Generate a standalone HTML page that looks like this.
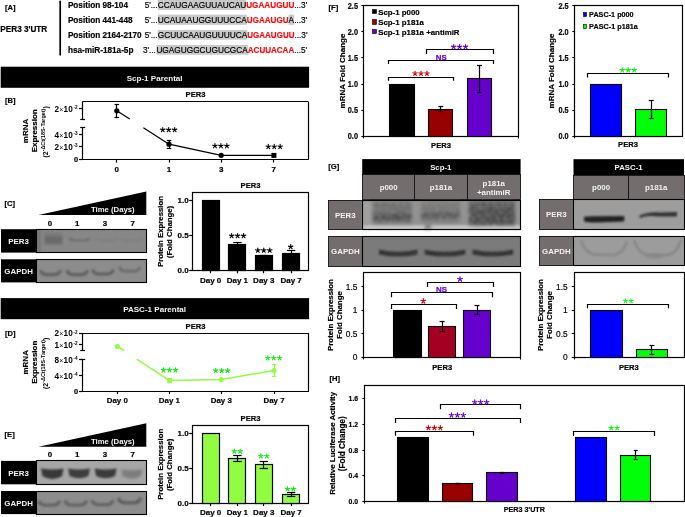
<!DOCTYPE html>
<html><head><meta charset="utf-8"><style>
html,body{margin:0;padding:0;background:#fff;}
svg{display:block;font-family:"Liberation Sans", sans-serif;will-change:transform;}
</style></head><body>
<svg width="685" height="517" viewBox="0 0 685 517">
<defs><filter id="b0_5" filterUnits="userSpaceOnUse" x="0" y="0" width="685" height="517"><feGaussianBlur stdDeviation="0.5"/></filter><filter id="b0_8" filterUnits="userSpaceOnUse" x="0" y="0" width="685" height="517"><feGaussianBlur stdDeviation="0.8"/></filter><filter id="b1_0" filterUnits="userSpaceOnUse" x="0" y="0" width="685" height="517"><feGaussianBlur stdDeviation="1.0"/></filter><filter id="b1_2" filterUnits="userSpaceOnUse" x="0" y="0" width="685" height="517"><feGaussianBlur stdDeviation="1.2"/></filter><filter id="b1_3" filterUnits="userSpaceOnUse" x="0" y="0" width="685" height="517"><feGaussianBlur stdDeviation="1.3"/></filter><filter id="b1_4" filterUnits="userSpaceOnUse" x="0" y="0" width="685" height="517"><feGaussianBlur stdDeviation="1.4"/></filter><filter id="b1_5" filterUnits="userSpaceOnUse" x="0" y="0" width="685" height="517"><feGaussianBlur stdDeviation="1.5"/></filter><filter id="b2_0" filterUnits="userSpaceOnUse" x="0" y="0" width="685" height="517"><feGaussianBlur stdDeviation="2.0"/></filter><filter id="b2_5" filterUnits="userSpaceOnUse" x="0" y="0" width="685" height="517"><feGaussianBlur stdDeviation="2.5"/></filter><filter id="b3_0" filterUnits="userSpaceOnUse" x="0" y="0" width="685" height="517"><feGaussianBlur stdDeviation="3.0"/></filter><filter id="mottle" x="-10%" y="-30%" width="120%" height="160%"><feTurbulence type="fractalNoise" baseFrequency="0.28" numOctaves="2" seed="11" result="n"/><feColorMatrix in="n" type="matrix" values="0 0 0 0 0  0 0 0 0 0  0 0 0 0 0  0 0 0 -1.1 1.35" result="a"/><feComposite in="SourceGraphic" in2="a" operator="in" result="c"/><feGaussianBlur in="c" stdDeviation="0.9"/></filter></defs>
<rect width="685" height="517" fill="#fff"/>
<text x="5" y="10.2" font-size="7.6" font-weight="bold" text-anchor="start" fill="#000" stroke="#000" stroke-width="0.18">[A]</text>
<text x="0.3" y="31.8" font-size="8.2" font-weight="bold" text-anchor="start" fill="#000" stroke="#000" stroke-width="0.18">PER3 3'UTR</text>
<line x1="60.2" y1="0.7" x2="60.2" y2="55.5" stroke="#000" stroke-width="1.7"/>
<text x="67.9" y="7.9" font-size="8.2" font-weight="bold" text-anchor="start" fill="#000" stroke="#000" stroke-width="0.18">Position 98-104</text>
<text x="67.9" y="22.8" font-size="8.2" font-weight="bold" text-anchor="start" fill="#000" stroke="#000" stroke-width="0.18">Position 441-448</text>
<text x="67.9" y="37.7" font-size="8.2" font-weight="bold" text-anchor="start" fill="#000" stroke="#000" stroke-width="0.18">Position 2164-2170</text>
<text x="67.9" y="52.6" font-size="8.2" font-weight="bold" text-anchor="start" fill="#000" stroke="#000" stroke-width="0.18">hsa-miR-181a-5p</text>
<rect x="157.8" y="0.0" width="88.39999999999998" height="9.9" fill="#c9c9c9"/>
<text x="144.7" y="7.9" font-size="8.2" font-weight="normal" text-anchor="start" fill="#000" stroke="#000" stroke-width="0.18">5'...</text>
<text x="157.8" y="7.9" font-size="8.2" font-weight="normal" text-anchor="start" fill="#000" stroke="#000" stroke-width="0.18" textLength="88.39999999999998" lengthAdjust="spacingAndGlyphs">CCAUGAAGUUAUCAU</text>
<text x="246.2" y="7.9" font-size="8.2" font-weight="bold" text-anchor="start" fill="#ff0a0a" stroke="#ff0a0a" stroke-width="0.18" textLength="48.10000000000002" lengthAdjust="spacingAndGlyphs">UGAAUGUU</text>
<text x="294.3" y="7.9" font-size="8.2" font-weight="normal" text-anchor="start" fill="#000" stroke="#000" stroke-width="0.18">...3'</text>
<rect x="157.8" y="14.6" width="89.0" height="10.200000000000001" fill="#c9c9c9"/>
<text x="144.7" y="22.8" font-size="8.2" font-weight="normal" text-anchor="start" fill="#000" stroke="#000" stroke-width="0.18">5'...</text>
<text x="157.8" y="22.8" font-size="8.2" font-weight="normal" text-anchor="start" fill="#000" stroke="#000" stroke-width="0.18" textLength="89.0" lengthAdjust="spacingAndGlyphs">UCAUAAUGGUUUCCA</text>
<text x="246.8" y="22.8" font-size="8.2" font-weight="bold" text-anchor="start" fill="#ff0a0a" stroke="#ff0a0a" stroke-width="0.18" textLength="41.80000000000001" lengthAdjust="spacingAndGlyphs">UGAAUGU</text>
<rect x="288.6" y="14.6" width="5.599999999999966" height="10.200000000000001" fill="#c9c9c9"/>
<text x="288.6" y="22.8" font-size="8.2" font-weight="normal" text-anchor="start" fill="#000" stroke="#000" stroke-width="0.18">A</text>
<text x="294.2" y="22.8" font-size="8.2" font-weight="normal" text-anchor="start" fill="#000" stroke="#000" stroke-width="0.18">...3'</text>
<rect x="157.8" y="29.9" width="89.39999999999998" height="9.800000000000004" fill="#c9c9c9"/>
<text x="144.7" y="37.7" font-size="8.2" font-weight="normal" text-anchor="start" fill="#000" stroke="#000" stroke-width="0.18">5'...</text>
<text x="157.8" y="37.7" font-size="8.2" font-weight="normal" text-anchor="start" fill="#000" stroke="#000" stroke-width="0.18" textLength="89.39999999999998" lengthAdjust="spacingAndGlyphs">GCUUCAAUGUUUUCA</text>
<text x="247.2" y="37.7" font-size="8.2" font-weight="bold" text-anchor="start" fill="#ff0a0a" stroke="#ff0a0a" stroke-width="0.18" textLength="47.30000000000001" lengthAdjust="spacingAndGlyphs">UGAAUGUU</text>
<text x="294.5" y="37.7" font-size="8.2" font-weight="normal" text-anchor="start" fill="#000" stroke="#000" stroke-width="0.18">...3'</text>
<rect x="156.4" y="45.0" width="91.4" height="9.700000000000003" fill="#c9c9c9"/>
<text x="142.9" y="52.6" font-size="8.2" font-weight="normal" text-anchor="start" fill="#000" stroke="#000" stroke-width="0.18">3'...</text>
<text x="156.4" y="52.6" font-size="8.2" font-weight="normal" text-anchor="start" fill="#000" stroke="#000" stroke-width="0.18" textLength="91.4" lengthAdjust="spacingAndGlyphs">UGAGUGGCUGUCGCA</text>
<text x="247.8" y="52.6" font-size="8.2" font-weight="bold" text-anchor="start" fill="#ff0a0a" stroke="#ff0a0a" stroke-width="0.18" textLength="46.39999999999998" lengthAdjust="spacingAndGlyphs">ACUUACAA</text>
<text x="294.2" y="52.6" font-size="8.2" font-weight="normal" text-anchor="start" fill="#000" stroke="#000" stroke-width="0.18">...5'</text>
<rect x="0.7" y="66.7" width="308.4" height="21.1" fill="#000"/>
<text x="154.6" y="80.9" font-size="8.05" font-weight="bold" text-anchor="middle" fill="#f4f4f4">Scp-1 Parental</text>
<text x="195.5" y="97.4" font-size="7.6" font-weight="bold" text-anchor="middle" fill="#000" stroke="#000" stroke-width="0.18">PER3</text>
<text x="5" y="102.5" font-size="7.6" font-weight="bold" text-anchor="start" fill="#000" stroke="#000" stroke-width="0.18">[B]</text>
<line x1="82.5" y1="101.5" x2="308.2" y2="101.5" stroke="#000" stroke-width="1.2"/>
<line x1="308.5" y1="101.5" x2="308.5" y2="159.0" stroke="#000" stroke-width="1.2"/>
<line x1="81.9" y1="159.5" x2="308.8" y2="159.5" stroke="#000" stroke-width="1.2"/>
<line x1="82.5" y1="101.5" x2="82.5" y2="119.0" stroke="#000" stroke-width="1.2"/>
<line x1="82.5" y1="127.8" x2="82.5" y2="159.0" stroke="#000" stroke-width="1.2"/>
<line x1="80.2" y1="119.5" x2="85.0" y2="119.5" stroke="#000" stroke-width="1.2"/>
<line x1="80.2" y1="127.5" x2="85.2" y2="127.5" stroke="#000" stroke-width="1.2"/>
<line x1="79.0" y1="108.5" x2="82.5" y2="108.5" stroke="#000" stroke-width="1.2"/>
<line x1="79.0" y1="134.5" x2="82.5" y2="134.5" stroke="#000" stroke-width="1.2"/>
<line x1="79.0" y1="146.5" x2="82.5" y2="146.5" stroke="#000" stroke-width="1.2"/>
<line x1="79.0" y1="159.5" x2="82.5" y2="159.5" stroke="#000" stroke-width="1.2"/>
<text y="111.8" font-size="8.2" font-weight="bold"><tspan x="54.4">2</tspan><tspan x="59.2" font-size="7" font-weight="normal">×</tspan><tspan x="63.6">10</tspan><tspan x="73.6" y="109.0" font-size="4.6">-2</tspan></text>
<text y="137.8" font-size="8.2" font-weight="bold"><tspan x="54.4">4</tspan><tspan x="59.2" font-size="7" font-weight="normal">×</tspan><tspan x="63.6">10</tspan><tspan x="73.6" y="135.0" font-size="4.6">-3</tspan></text>
<text y="149.70000000000002" font-size="8.2" font-weight="bold"><tspan x="54.4">2</tspan><tspan x="59.2" font-size="7" font-weight="normal">×</tspan><tspan x="63.6">10</tspan><tspan x="73.6" y="146.9" font-size="4.6">-3</tspan></text>
<text x="78.0" y="161.7" font-size="7.4" font-weight="bold" text-anchor="end" fill="#000" stroke="#000" stroke-width="0.18">0</text>
<text x="28.2" y="130.9" font-size="8.0" font-weight="bold" text-anchor="middle" fill="#000" stroke="#000" stroke-width="0.18" transform="rotate(-90 28.2 130.9)">mRNA</text>
<text x="37.4" y="130.8" font-size="8.0" font-weight="bold" text-anchor="middle" fill="#000" stroke="#000" stroke-width="0.18" transform="rotate(-90 37.4 130.8)">Expression</text>
<text x="47.6" y="157.6" font-size="7" font-weight="bold" transform="rotate(-90 47.6 157.6)">(2<tspan font-size="5.45" dy="-2.2">-ΔCt(18S-Target)</tspan><tspan dy="2.2">)</tspan></text>
<line x1="116.5" y1="159.0" x2="116.5" y2="162.6" stroke="#000" stroke-width="1.2"/>
<text x="116.8" y="171.5" font-size="8.0" font-weight="bold" text-anchor="middle" fill="#000" stroke="#000" stroke-width="0.18">0</text>
<line x1="169.5" y1="159.0" x2="169.5" y2="162.6" stroke="#000" stroke-width="1.2"/>
<text x="169.0" y="171.5" font-size="8.0" font-weight="bold" text-anchor="middle" fill="#000" stroke="#000" stroke-width="0.18">1</text>
<line x1="221.5" y1="159.0" x2="221.5" y2="162.6" stroke="#000" stroke-width="1.2"/>
<text x="221.2" y="171.5" font-size="8.0" font-weight="bold" text-anchor="middle" fill="#000" stroke="#000" stroke-width="0.18">3</text>
<line x1="273.5" y1="159.0" x2="273.5" y2="162.6" stroke="#000" stroke-width="1.2"/>
<text x="273.8" y="171.5" font-size="8.0" font-weight="bold" text-anchor="middle" fill="#000" stroke="#000" stroke-width="0.18">7</text>
<path d="M116.8 110.8 L129.8 119.0" fill="none" stroke="#000" stroke-width="1.3"/>
<path d="M143.4 127.8 L169.0 144.2 L221.2 155.3 L273.8 155.3" fill="none" stroke="#000" stroke-width="1.3"/>
<line x1="116.5" y1="104.6" x2="116.5" y2="117.1" stroke="#000" stroke-width="1.2"/>
<line x1="114.5" y1="104.5" x2="119.1" y2="104.5" stroke="#000" stroke-width="1.2"/>
<line x1="114.5" y1="117.5" x2="119.1" y2="117.5" stroke="#000" stroke-width="1.2"/>
<line x1="169.5" y1="140.6" x2="169.5" y2="148.4" stroke="#000" stroke-width="1.2"/>
<line x1="166.7" y1="140.5" x2="171.3" y2="140.5" stroke="#000" stroke-width="1.2"/>
<line x1="166.7" y1="148.5" x2="171.3" y2="148.5" stroke="#000" stroke-width="1.2"/>
<circle cx="116.8" cy="110.8" r="2.6" fill="#000"/>
<circle cx="169.0" cy="144.2" r="2.6" fill="#000"/>
<circle cx="221.2" cy="155.3" r="2.6" fill="#000"/>
<rect x="271.4" y="152.9" width="5.0" height="5.0" fill="#000"/>
<path d="M162.75 129.82L162.75 127.52M162.75 129.82L164.94 129.11M162.75 129.82L164.10 131.68M162.75 129.82L161.40 131.68M162.75 129.82L160.56 129.11M168.70 129.82L168.70 127.52M168.70 129.82L170.89 129.11M168.70 129.82L170.05 131.68M168.70 129.82L167.35 131.68M168.70 129.82L166.51 129.11M174.65 129.82L174.65 127.52M174.65 129.82L176.84 129.11M174.65 129.82L176.00 131.68M174.65 129.82L173.30 131.68M174.65 129.82L172.46 129.11" stroke="#000" stroke-width="1.15" stroke-linecap="round" fill="none"/>
<path d="M214.95 145.92L214.95 143.62M214.95 145.92L217.14 145.21M214.95 145.92L216.30 147.78M214.95 145.92L213.60 147.78M214.95 145.92L212.76 145.21M220.90 145.92L220.90 143.62M220.90 145.92L223.09 145.21M220.90 145.92L222.25 147.78M220.90 145.92L219.55 147.78M220.90 145.92L218.71 145.21M226.85 145.92L226.85 143.62M226.85 145.92L229.04 145.21M226.85 145.92L228.20 147.78M226.85 145.92L225.50 147.78M226.85 145.92L224.66 145.21" stroke="#000" stroke-width="1.15" stroke-linecap="round" fill="none"/>
<path d="M268.25 146.72L268.25 144.42M268.25 146.72L270.44 146.01M268.25 146.72L269.60 148.58M268.25 146.72L266.90 148.58M268.25 146.72L266.06 146.01M274.20 146.72L274.20 144.42M274.20 146.72L276.39 146.01M274.20 146.72L275.55 148.58M274.20 146.72L272.85 148.58M274.20 146.72L272.01 146.01M280.15 146.72L280.15 144.42M280.15 146.72L282.34 146.01M280.15 146.72L281.50 148.58M280.15 146.72L278.80 148.58M280.15 146.72L277.96 146.01" stroke="#000" stroke-width="1.15" stroke-linecap="round" fill="none"/>
<rect x="0.7" y="298.1" width="308.4" height="21.1" fill="#000"/>
<text x="154.6" y="312.3" font-size="8.05" font-weight="bold" text-anchor="middle" fill="#f4f4f4">PASC-1 Parental</text>
<text x="195.5" y="328.8" font-size="7.6" font-weight="bold" text-anchor="middle" fill="#000" stroke="#000" stroke-width="0.18">PER3</text>
<text x="5" y="335.6" font-size="7.6" font-weight="bold" text-anchor="start" fill="#000" stroke="#000" stroke-width="0.18">[D]</text>
<line x1="82.5" y1="333.5" x2="308.4" y2="333.5" stroke="#000" stroke-width="1.2"/>
<line x1="308.5" y1="333.1" x2="308.5" y2="391.0" stroke="#000" stroke-width="1.2"/>
<line x1="81.9" y1="391.5" x2="309.0" y2="391.5" stroke="#000" stroke-width="1.2"/>
<line x1="82.5" y1="333.1" x2="82.5" y2="350.3" stroke="#000" stroke-width="1.2"/>
<line x1="82.5" y1="359.5" x2="82.5" y2="391.0" stroke="#000" stroke-width="1.2"/>
<line x1="80.2" y1="350.5" x2="85.0" y2="350.5" stroke="#000" stroke-width="1.2"/>
<line x1="80.2" y1="359.5" x2="85.2" y2="359.5" stroke="#000" stroke-width="1.2"/>
<line x1="79.0" y1="333.5" x2="82.5" y2="333.5" stroke="#000" stroke-width="1.2"/>
<line x1="79.0" y1="344.5" x2="82.5" y2="344.5" stroke="#000" stroke-width="1.2"/>
<line x1="79.0" y1="359.5" x2="82.5" y2="359.5" stroke="#000" stroke-width="1.2"/>
<line x1="79.0" y1="375.5" x2="82.5" y2="375.5" stroke="#000" stroke-width="1.2"/>
<line x1="79.0" y1="391.5" x2="82.5" y2="391.5" stroke="#000" stroke-width="1.2"/>
<text y="336.40000000000003" font-size="8.2" font-weight="bold"><tspan x="54.4">2</tspan><tspan x="59.2" font-size="7" font-weight="normal">×</tspan><tspan x="63.6">10</tspan><tspan x="73.6" y="333.6" font-size="4.6">-2</tspan></text>
<text y="347.90000000000003" font-size="8.2" font-weight="bold"><tspan x="54.4">1</tspan><tspan x="59.2" font-size="7" font-weight="normal">×</tspan><tspan x="63.6">10</tspan><tspan x="73.6" y="345.1" font-size="4.6">-2</tspan></text>
<text y="362.8" font-size="8.2" font-weight="bold"><tspan x="54.4">8</tspan><tspan x="59.2" font-size="7" font-weight="normal">×</tspan><tspan x="63.6">10</tspan><tspan x="73.6" y="360.0" font-size="4.6">-4</tspan></text>
<text y="379.1" font-size="8.2" font-weight="bold"><tspan x="54.4">4</tspan><tspan x="59.2" font-size="7" font-weight="normal">×</tspan><tspan x="63.6">10</tspan><tspan x="73.6" y="376.3" font-size="4.6">-4</tspan></text>
<text x="78.0" y="393.7" font-size="7.4" font-weight="bold" text-anchor="end" fill="#000" stroke="#000" stroke-width="0.18">0</text>
<text x="28.2" y="362.3" font-size="8.0" font-weight="bold" text-anchor="middle" fill="#000" stroke="#000" stroke-width="0.18" transform="rotate(-90 28.2 362.3)">mRNA</text>
<text x="37.4" y="362.20000000000005" font-size="8.0" font-weight="bold" text-anchor="middle" fill="#000" stroke="#000" stroke-width="0.18" transform="rotate(-90 37.4 362.20000000000005)">Expression</text>
<text x="47.6" y="389.0" font-size="7" font-weight="bold" transform="rotate(-90 47.6 389.0)">(2<tspan font-size="5.45" dy="-2.2">-ΔCt(18S-Target)</tspan><tspan dy="2.2">)</tspan></text>
<line x1="117.5" y1="391.0" x2="117.5" y2="394.0" stroke="#000" stroke-width="1.2"/>
<text x="117.3" y="403.2" font-size="7.9" font-weight="bold" text-anchor="middle" fill="#000" stroke="#000" stroke-width="0.18">Day 0</text>
<line x1="169.5" y1="391.0" x2="169.5" y2="394.0" stroke="#000" stroke-width="1.2"/>
<text x="169.4" y="403.2" font-size="7.9" font-weight="bold" text-anchor="middle" fill="#000" stroke="#000" stroke-width="0.18">Day 1</text>
<line x1="221.5" y1="391.0" x2="221.5" y2="394.0" stroke="#000" stroke-width="1.2"/>
<text x="221.3" y="403.2" font-size="7.9" font-weight="bold" text-anchor="middle" fill="#000" stroke="#000" stroke-width="0.18">Day 3</text>
<line x1="274.5" y1="391.0" x2="274.5" y2="394.0" stroke="#000" stroke-width="1.2"/>
<text x="274.0" y="403.2" font-size="7.9" font-weight="bold" text-anchor="middle" fill="#000" stroke="#000" stroke-width="0.18">Day 7</text>
<path d="M117.3 346.4 L124.1 350.5" fill="none" stroke="#90fd40" stroke-width="1.5"/>
<path d="M136.7 359.2 L169.4 380.4 L221.3 379.6 L274.0 370.5" fill="none" stroke="#90fd40" stroke-width="1.5"/>
<line x1="169.5" y1="378.4" x2="169.5" y2="382.6" stroke="#90fd40" stroke-width="1.2"/>
<line x1="167.20000000000002" y1="378.5" x2="171.6" y2="378.5" stroke="#90fd40" stroke-width="1.2"/>
<line x1="167.20000000000002" y1="382.5" x2="171.6" y2="382.5" stroke="#90fd40" stroke-width="1.2"/>
<line x1="274.5" y1="364.0" x2="274.5" y2="376.2" stroke="#90fd40" stroke-width="1.2"/>
<line x1="271.8" y1="364.5" x2="276.2" y2="364.5" stroke="#90fd40" stroke-width="1.2"/>
<line x1="271.8" y1="376.5" x2="276.2" y2="376.5" stroke="#90fd40" stroke-width="1.2"/>
<circle cx="117.3" cy="346.4" r="2.5" fill="#90fd40"/>
<circle cx="221.3" cy="379.6" r="2.5" fill="#90fd40"/>
<circle cx="274.0" cy="370.5" r="2.5" fill="#90fd40"/>
<rect x="167.2" y="378.0" width="4.6" height="4.8" fill="#90fd40"/>
<path d="M163.55 370.12L163.55 367.82M163.55 370.12L165.74 369.41M163.55 370.12L164.90 371.98M163.55 370.12L162.20 371.98M163.55 370.12L161.36 369.41M169.50 370.12L169.50 367.82M169.50 370.12L171.69 369.41M169.50 370.12L170.85 371.98M169.50 370.12L168.15 371.98M169.50 370.12L167.31 369.41M175.45 370.12L175.45 367.82M175.45 370.12L177.64 369.41M175.45 370.12L176.80 371.98M175.45 370.12L174.10 371.98M175.45 370.12L173.26 369.41" stroke="#14e614" stroke-width="1.15" stroke-linecap="round" fill="none"/>
<path d="M215.75 370.62L215.75 368.32M215.75 370.62L217.94 369.91M215.75 370.62L217.10 372.48M215.75 370.62L214.40 372.48M215.75 370.62L213.56 369.91M221.70 370.62L221.70 368.32M221.70 370.62L223.89 369.91M221.70 370.62L223.05 372.48M221.70 370.62L220.35 372.48M221.70 370.62L219.51 369.91M227.65 370.62L227.65 368.32M227.65 370.62L229.84 369.91M227.65 370.62L229.00 372.48M227.65 370.62L226.30 372.48M227.65 370.62L225.46 369.91" stroke="#14e614" stroke-width="1.15" stroke-linecap="round" fill="none"/>
<path d="M267.75 358.02L267.75 355.72M267.75 358.02L269.94 357.31M267.75 358.02L269.10 359.88M267.75 358.02L266.40 359.88M267.75 358.02L265.56 357.31M273.70 358.02L273.70 355.72M273.70 358.02L275.89 357.31M273.70 358.02L275.05 359.88M273.70 358.02L272.35 359.88M273.70 358.02L271.51 357.31M279.65 358.02L279.65 355.72M279.65 358.02L281.84 357.31M279.65 358.02L281.00 359.88M279.65 358.02L278.30 359.88M279.65 358.02L277.46 357.31" stroke="#14e614" stroke-width="1.15" stroke-linecap="round" fill="none"/>
<text x="4.6" y="205.5" font-size="7.6" font-weight="bold" text-anchor="start" fill="#000" stroke="#000" stroke-width="0.18">[C]</text>
<path d="M38.5 215.1 L146.3 191.6 L146.3 215.1 Z" fill="#000" stroke="none" stroke-width="0"/>
<text x="112.8" y="212.3" font-size="7.75" font-weight="bold" text-anchor="middle" fill="#f4f4f4">Time (Days)</text>
<text x="49.9" y="225.7" font-size="7.9" font-weight="bold" text-anchor="middle" fill="#000" stroke="#000" stroke-width="0.18">0</text>
<text x="77.2" y="225.7" font-size="7.9" font-weight="bold" text-anchor="middle" fill="#000" stroke="#000" stroke-width="0.18">1</text>
<text x="105.0" y="225.7" font-size="7.9" font-weight="bold" text-anchor="middle" fill="#000" stroke="#000" stroke-width="0.18">3</text>
<text x="132.6" y="225.7" font-size="7.9" font-weight="bold" text-anchor="middle" fill="#000" stroke="#000" stroke-width="0.18">7</text>
<rect x="1.0" y="229.2" width="35.8" height="23.400000000000006" fill="#000"/>
<rect x="36.4" y="229.2" width="110.4" height="23.400000000000006" fill="#878787"/>
<rect x="37" y="230" width="4" height="22" fill="#777" fill-opacity="1.0" filter="url(#b1_0)"/>
<rect x="44" y="232" width="18.5" height="13" fill="#7a7a7a" fill-opacity="1.0" filter="url(#b1_5)"/>
<rect x="45" y="236.5" width="17" height="7" fill="#6a6a6a" fill-opacity="1.0" filter="url(#b1_2)"/>
<path d="M69.5 238.0 Q70.5 240.5 76.5 240.5 L82.5 240.5 Q88.5 240.5 89.5 238.0" fill="none" stroke="#6a6a6a" stroke-width="2.2" stroke-opacity="0.9" filter="url(#b1_0)"/>
<path d="M96 238.0 Q97 240.5 103 240.5 L110 240.5 Q116 240.5 117 238.0" fill="none" stroke="#7a7a7a" stroke-width="2.0" stroke-opacity="0.8" filter="url(#b1_2)"/>
<path d="M121 238.5 Q122 241 128 241 L135 241 Q141 241 142 238.5" fill="none" stroke="#7a7a7a" stroke-width="2.0" stroke-opacity="0.8" filter="url(#b1_2)"/>
<rect x="36.5" y="229.5" width="110.0" height="23.0" fill="none" stroke="#000" stroke-width="1.1"/>
<text x="18.6" y="243.89999999999998" font-size="7.9" font-weight="bold" text-anchor="middle" fill="#f4f4f4">PER3</text>
<rect x="1.0" y="259.3" width="35.8" height="23.099999999999966" fill="#000"/>
<rect x="36.4" y="259.3" width="110.4" height="23.099999999999966" fill="#8c8c8c"/>
<path d="M40.5 270.1 Q41.5 274.6 47.5 274.6 L53.5 274.6 Q59.5 274.6 60.5 270.1" fill="none" stroke="#606060" stroke-width="3.2" stroke-opacity="1.0" filter="url(#b1_0)"/>
<path d="M67 270.1 Q68 274.6 74 274.6 L80.5 274.6 Q86.5 274.6 87.5 270.1" fill="none" stroke="#606060" stroke-width="3.2" stroke-opacity="1.0" filter="url(#b1_0)"/>
<path d="M92.5 269.5 Q93.5 274.0 99.5 274.0 L106.5 274.0 Q112.5 274.0 113.5 269.5" fill="none" stroke="#606060" stroke-width="3.2" stroke-opacity="1.0" filter="url(#b1_0)"/>
<path d="M119.5 266.7 Q120.5 271.2 126.5 271.2 L133 271.2 Q139 271.2 140 266.7" fill="none" stroke="#6a6a6a" stroke-width="2.8" stroke-opacity="1.0" filter="url(#b1_0)"/>
<rect x="36.5" y="259.5" width="110.0" height="23.0" fill="none" stroke="#000" stroke-width="1.1"/>
<text x="18.6" y="274.0" font-size="7.9" font-weight="bold" text-anchor="middle" fill="#f4f4f4">GAPDH</text>
<text x="4.6" y="437.2" font-size="7.6" font-weight="bold" text-anchor="start" fill="#000" stroke="#000" stroke-width="0.18">[E]</text>
<path d="M38.5 446.79999999999995 L146.3 423.29999999999995 L146.3 446.79999999999995 Z" fill="#000" stroke="none" stroke-width="0"/>
<text x="112.8" y="444.0" font-size="7.75" font-weight="bold" text-anchor="middle" fill="#f4f4f4">Time (Days)</text>
<text x="49.9" y="457.4" font-size="7.9" font-weight="bold" text-anchor="middle" fill="#000" stroke="#000" stroke-width="0.18">0</text>
<text x="77.2" y="457.4" font-size="7.9" font-weight="bold" text-anchor="middle" fill="#000" stroke="#000" stroke-width="0.18">1</text>
<text x="105.0" y="457.4" font-size="7.9" font-weight="bold" text-anchor="middle" fill="#000" stroke="#000" stroke-width="0.18">3</text>
<text x="132.6" y="457.4" font-size="7.9" font-weight="bold" text-anchor="middle" fill="#000" stroke="#000" stroke-width="0.18">7</text>
<rect x="1.0" y="460.9" width="35.8" height="23.400000000000006" fill="#000"/>
<rect x="36.4" y="460.9" width="110.4" height="23.400000000000006" fill="#a6a6a6"/>
<path d="M41 468.5 Q52.25 470.5 63.5 468.5 L62.0 476.29999999999995 Q52.25 481.5 42.5 476.29999999999995 Z" fill="#383838" fill-opacity="1.0" filter="url(#b1_0)"/>
<path d="M68 468.5 Q79.0 470.5 90 468.5 L88.5 475.9 Q79.0 480.69999999999993 69.5 475.9 Z" fill="#3c3c3c" fill-opacity="1.0" filter="url(#b1_0)"/>
<path d="M94.6 468.5 Q105.6 470.5 116.6 468.5 L115.1 475.9 Q105.6 480.69999999999993 96.1 475.9 Z" fill="#3a3a3a" fill-opacity="1.0" filter="url(#b1_0)"/>
<path d="M121.2 469.2 Q131.8 471.2 142.4 469.2 L140.9 476.3 Q131.8 481.09999999999997 122.7 476.3 Z" fill="#7c7c7c" fill-opacity="1.0" filter="url(#b1_4)"/>
<rect x="36.5" y="460.5" width="110.0" height="24.0" fill="none" stroke="#000" stroke-width="1.1"/>
<text x="18.6" y="475.59999999999997" font-size="7.9" font-weight="bold" text-anchor="middle" fill="#f4f4f4">PER3</text>
<rect x="1.0" y="491.0" width="35.8" height="23.099999999999966" fill="#000"/>
<rect x="36.4" y="491.0" width="110.4" height="23.099999999999966" fill="#8d8d8d"/>
<path d="M39 500.59999999999997 Q40 505.09999999999997 46 505.09999999999997 L52.4 505.09999999999997 Q58.4 505.09999999999997 59.4 500.59999999999997" fill="none" stroke="#636363" stroke-width="3.4" stroke-opacity="1.0" filter="url(#b1_0)"/>
<path d="M65 500.59999999999997 Q66 505.09999999999997 72 505.09999999999997 L79.5 505.09999999999997 Q85.5 505.09999999999997 86.5 500.59999999999997" fill="none" stroke="#636363" stroke-width="3.4" stroke-opacity="1.0" filter="url(#b1_0)"/>
<path d="M92 500.09999999999997 Q93 504.59999999999997 99 504.59999999999997 L106 504.59999999999997 Q112 504.59999999999997 113 500.09999999999997" fill="none" stroke="#636363" stroke-width="3.4" stroke-opacity="1.0" filter="url(#b1_0)"/>
<path d="M118.5 497.9 Q119.5 502.9 125.5 502.9 L133.5 502.9 Q139.5 502.9 140.5 497.9" fill="none" stroke="#5e5e5e" stroke-width="3.4" stroke-opacity="1.0" filter="url(#b1_0)"/>
<rect x="36.5" y="491.5" width="110.0" height="23.0" fill="none" stroke="#000" stroke-width="1.1"/>
<text x="18.6" y="505.7" font-size="7.9" font-weight="bold" text-anchor="middle" fill="#f4f4f4">GAPDH</text>
<text x="250.5" y="188.3" font-size="7.6" font-weight="bold" text-anchor="middle" fill="#000" stroke="#000" stroke-width="0.18">PER3</text>
<rect x="192.5" y="192.5" width="116.0" height="78.0" fill="none" stroke="#000" stroke-width="1.2"/>
<line x1="189.2" y1="200.5" x2="192.6" y2="200.5" stroke="#000" stroke-width="1.2"/>
<text x="188.6" y="203.1" font-size="8.0" font-weight="bold" text-anchor="end" fill="#000" stroke="#000" stroke-width="0.18">1.0</text>
<line x1="189.2" y1="235.5" x2="192.6" y2="235.5" stroke="#000" stroke-width="1.2"/>
<text x="188.6" y="238.15" font-size="8.0" font-weight="bold" text-anchor="end" fill="#000" stroke="#000" stroke-width="0.18">0.5</text>
<line x1="189.2" y1="270.5" x2="192.6" y2="270.5" stroke="#000" stroke-width="1.2"/>
<text x="188.6" y="273.2" font-size="8.0" font-weight="bold" text-anchor="end" fill="#000" stroke="#000" stroke-width="0.18">0.0</text>
<text x="162.6" y="231.5" font-size="7.8" font-weight="bold" text-anchor="middle" fill="#000" stroke="#000" stroke-width="0.18" transform="rotate(-90 162.6 231.5)">Protein Expression</text>
<text x="172.4" y="232.0" font-size="7.8" font-weight="bold" text-anchor="middle" fill="#000" stroke="#000" stroke-width="0.18" transform="rotate(-90 172.4 232.0)">(Fold Change)</text>
<rect x="202.5" y="200.5" width="17.0" height="70.0" fill="#000" stroke="#000" stroke-width="1.2"/>
<line x1="210.5" y1="270.3" x2="210.5" y2="273.3" stroke="#000" stroke-width="1.2"/>
<text x="210.6" y="282.5" font-size="8.0" font-weight="bold" text-anchor="middle" fill="#000" stroke="#000" stroke-width="0.18">Day 0</text>
<rect x="228.5" y="244.5" width="17.0" height="26.0" fill="#000" stroke="#000" stroke-width="1.2"/>
<line x1="237.5" y1="242.6105" x2="237.5" y2="246.81650000000002" stroke="#000" stroke-width="1.2"/>
<line x1="233.20000000000002" y1="242.5" x2="241.6" y2="242.5" stroke="#000" stroke-width="1.2"/>
<line x1="233.20000000000002" y1="246.5" x2="241.6" y2="246.5" stroke="#000" stroke-width="1.2"/>
<line x1="237.5" y1="270.3" x2="237.5" y2="273.3" stroke="#000" stroke-width="1.2"/>
<text x="237.4" y="282.5" font-size="8.0" font-weight="bold" text-anchor="middle" fill="#000" stroke="#000" stroke-width="0.18">Day 1</text>
<rect x="255.5" y="255.5" width="17.0" height="15.0" fill="#000" stroke="#000" stroke-width="1.2"/>
<line x1="263.5" y1="255.2285" x2="263.5" y2="256.6305" stroke="#000" stroke-width="1.2"/>
<line x1="259.6" y1="255.5" x2="268.0" y2="255.5" stroke="#000" stroke-width="1.2"/>
<line x1="259.6" y1="256.5" x2="268.0" y2="256.5" stroke="#000" stroke-width="1.2"/>
<line x1="263.5" y1="270.3" x2="263.5" y2="273.3" stroke="#000" stroke-width="1.2"/>
<text x="263.8" y="282.5" font-size="8.0" font-weight="bold" text-anchor="middle" fill="#000" stroke="#000" stroke-width="0.18">Day 3</text>
<rect x="282.5" y="253.5" width="17.0" height="17.0" fill="#000" stroke="#000" stroke-width="1.2"/>
<line x1="291.5" y1="250.672" x2="291.5" y2="256.28000000000003" stroke="#000" stroke-width="1.2"/>
<line x1="286.90000000000003" y1="250.5" x2="295.3" y2="250.5" stroke="#000" stroke-width="1.2"/>
<line x1="286.90000000000003" y1="256.5" x2="295.3" y2="256.5" stroke="#000" stroke-width="1.2"/>
<line x1="291.5" y1="270.3" x2="291.5" y2="273.3" stroke="#000" stroke-width="1.2"/>
<text x="291.1" y="282.5" font-size="8.0" font-weight="bold" text-anchor="middle" fill="#000" stroke="#000" stroke-width="0.18">Day 7</text>
<path d="M231.65 235.82L231.65 233.52M231.65 235.82L233.84 235.11M231.65 235.82L233.00 237.68M231.65 235.82L230.30 237.68M231.65 235.82L229.46 235.11M237.60 235.82L237.60 233.52M237.60 235.82L239.79 235.11M237.60 235.82L238.95 237.68M237.60 235.82L236.25 237.68M237.60 235.82L235.41 235.11M243.55 235.82L243.55 233.52M243.55 235.82L245.74 235.11M243.55 235.82L244.90 237.68M243.55 235.82L242.20 237.68M243.55 235.82L241.36 235.11" stroke="#000" stroke-width="1.15" stroke-linecap="round" fill="none"/>
<path d="M257.85 250.42L257.85 248.12M257.85 250.42L260.04 249.71M257.85 250.42L259.20 252.28M257.85 250.42L256.50 252.28M257.85 250.42L255.66 249.71M263.80 250.42L263.80 248.12M263.80 250.42L265.99 249.71M263.80 250.42L265.15 252.28M263.80 250.42L262.45 252.28M263.80 250.42L261.61 249.71M269.75 250.42L269.75 248.12M269.75 250.42L271.94 249.71M269.75 250.42L271.10 252.28M269.75 250.42L268.40 252.28M269.75 250.42L267.56 249.71" stroke="#000" stroke-width="1.15" stroke-linecap="round" fill="none"/>
<path d="M290.70 246.82L290.70 244.52M290.70 246.82L292.89 246.11M290.70 246.82L292.05 248.68M290.70 246.82L289.35 248.68M290.70 246.82L288.51 246.11" stroke="#000" stroke-width="1.15" stroke-linecap="round" fill="none"/>
<text x="250.5" y="421.1" font-size="7.6" font-weight="bold" text-anchor="middle" fill="#000" stroke="#000" stroke-width="0.18">PER3</text>
<rect x="192.5" y="425.5" width="116.0" height="78.0" fill="none" stroke="#000" stroke-width="1.2"/>
<line x1="189.2" y1="433.5" x2="192.6" y2="433.5" stroke="#000" stroke-width="1.2"/>
<text x="188.6" y="435.9" font-size="8.0" font-weight="bold" text-anchor="end" fill="#000" stroke="#000" stroke-width="0.18">1.0</text>
<line x1="189.2" y1="468.5" x2="192.6" y2="468.5" stroke="#000" stroke-width="1.2"/>
<text x="188.6" y="470.95" font-size="8.0" font-weight="bold" text-anchor="end" fill="#000" stroke="#000" stroke-width="0.18">0.5</text>
<line x1="189.2" y1="503.5" x2="192.6" y2="503.5" stroke="#000" stroke-width="1.2"/>
<text x="188.6" y="506.0" font-size="8.0" font-weight="bold" text-anchor="end" fill="#000" stroke="#000" stroke-width="0.18">0.0</text>
<text x="162.6" y="464.3" font-size="7.8" font-weight="bold" text-anchor="middle" fill="#000" stroke="#000" stroke-width="0.18" transform="rotate(-90 162.6 464.3)">Protein Expression</text>
<text x="172.4" y="464.8" font-size="7.8" font-weight="bold" text-anchor="middle" fill="#000" stroke="#000" stroke-width="0.18" transform="rotate(-90 172.4 464.8)">(Fold Change)</text>
<rect x="202.5" y="433.5" width="17.0" height="70.0" fill="#90fd40" stroke="#000" stroke-width="1.2"/>
<line x1="210.5" y1="503.1" x2="210.5" y2="506.1" stroke="#000" stroke-width="1.2"/>
<text x="210.6" y="515.3" font-size="8.0" font-weight="bold" text-anchor="middle" fill="#000" stroke="#000" stroke-width="0.18">Day 0</text>
<rect x="228.5" y="458.5" width="17.0" height="45.0" fill="#90fd40" stroke="#000" stroke-width="1.2"/>
<line x1="237.5" y1="455.432" x2="237.5" y2="461.741" stroke="#000" stroke-width="1.2"/>
<line x1="233.20000000000002" y1="455.5" x2="241.6" y2="455.5" stroke="#000" stroke-width="1.2"/>
<line x1="233.20000000000002" y1="461.5" x2="241.6" y2="461.5" stroke="#000" stroke-width="1.2"/>
<line x1="237.5" y1="503.1" x2="237.5" y2="506.1" stroke="#000" stroke-width="1.2"/>
<text x="237.4" y="515.3" font-size="8.0" font-weight="bold" text-anchor="middle" fill="#000" stroke="#000" stroke-width="0.18">Day 1</text>
<rect x="255.5" y="464.5" width="17.0" height="39.0" fill="#90fd40" stroke="#000" stroke-width="1.2"/>
<line x1="263.5" y1="461.3905" x2="263.5" y2="468.4005" stroke="#000" stroke-width="1.2"/>
<line x1="259.6" y1="461.5" x2="268.0" y2="461.5" stroke="#000" stroke-width="1.2"/>
<line x1="259.6" y1="468.5" x2="268.0" y2="468.5" stroke="#000" stroke-width="1.2"/>
<line x1="263.5" y1="503.1" x2="263.5" y2="506.1" stroke="#000" stroke-width="1.2"/>
<text x="263.8" y="515.3" font-size="8.0" font-weight="bold" text-anchor="middle" fill="#000" stroke="#000" stroke-width="0.18">Day 3</text>
<rect x="282.5" y="494.5" width="17.0" height="9.0" fill="#90fd40" stroke="#000" stroke-width="1.2"/>
<line x1="291.5" y1="492.93550000000005" x2="291.5" y2="496.44050000000004" stroke="#000" stroke-width="1.2"/>
<line x1="286.90000000000003" y1="492.5" x2="295.3" y2="492.5" stroke="#000" stroke-width="1.2"/>
<line x1="286.90000000000003" y1="496.5" x2="295.3" y2="496.5" stroke="#000" stroke-width="1.2"/>
<line x1="291.5" y1="503.1" x2="291.5" y2="506.1" stroke="#000" stroke-width="1.2"/>
<text x="291.1" y="515.3" font-size="8.0" font-weight="bold" text-anchor="middle" fill="#000" stroke="#000" stroke-width="0.18">Day 7</text>
<path d="M234.22 451.32L234.22 449.02M234.22 451.32L236.41 450.61M234.22 451.32L235.58 453.18M234.22 451.32L232.87 453.18M234.22 451.32L232.04 450.61M240.17 451.32L240.17 449.02M240.17 451.32L242.36 450.61M240.17 451.32L241.53 453.18M240.17 451.32L238.82 453.18M240.17 451.32L237.99 450.61" stroke="#14e614" stroke-width="1.15" stroke-linecap="round" fill="none"/>
<path d="M260.82 456.02L260.82 453.72M260.82 456.02L263.01 455.31M260.82 456.02L262.18 457.88M260.82 456.02L259.47 457.88M260.82 456.02L258.64 455.31M266.78 456.02L266.78 453.72M266.78 456.02L268.96 455.31M266.78 456.02L268.13 457.88M266.78 456.02L265.42 457.88M266.78 456.02L264.59 455.31" stroke="#14e614" stroke-width="1.15" stroke-linecap="round" fill="none"/>
<path d="M287.42 489.12L287.42 486.82M287.42 489.12L289.61 488.41M287.42 489.12L288.78 490.98M287.42 489.12L286.07 490.98M287.42 489.12L285.24 488.41M293.38 489.12L293.38 486.82M293.38 489.12L295.56 488.41M293.38 489.12L294.73 490.98M293.38 489.12L292.02 490.98M293.38 489.12L291.19 488.41" stroke="#14e614" stroke-width="1.15" stroke-linecap="round" fill="none"/>
<text x="328.6" y="9.9" font-size="7.6" font-weight="bold" text-anchor="start" fill="#000" stroke="#000" stroke-width="0.18">[F]</text>
<rect x="363.5" y="5.5" width="155.0" height="131.0" fill="none" stroke="#000" stroke-width="1.2"/>
<line x1="363.5" y1="136.4" x2="363.5" y2="138.4" stroke="#000" stroke-width="1.1"/>
<line x1="518.5" y1="136.4" x2="518.5" y2="138.4" stroke="#000" stroke-width="1.1"/>
<line x1="361.4" y1="136.5" x2="363.7" y2="136.5" stroke="#000" stroke-width="1.1"/>
<text x="358.0" y="139.352" font-size="8.2" font-weight="bold" text-anchor="end" fill="#000" stroke="#000" stroke-width="0.18" textLength="10.20" lengthAdjust="spacingAndGlyphs">0.0</text>
<line x1="361.4" y1="110.5" x2="363.7" y2="110.5" stroke="#000" stroke-width="1.1"/>
<text x="358.0" y="113.202" font-size="8.2" font-weight="bold" text-anchor="end" fill="#000" stroke="#000" stroke-width="0.18" textLength="10.20" lengthAdjust="spacingAndGlyphs">0.5</text>
<line x1="361.4" y1="84.5" x2="363.7" y2="84.5" stroke="#000" stroke-width="1.1"/>
<text x="358.0" y="87.05199999999999" font-size="8.2" font-weight="bold" text-anchor="end" fill="#000" stroke="#000" stroke-width="0.18" textLength="10.20" lengthAdjust="spacingAndGlyphs">1.0</text>
<line x1="361.4" y1="57.5" x2="363.7" y2="57.5" stroke="#000" stroke-width="1.1"/>
<text x="358.0" y="60.90199999999999" font-size="8.2" font-weight="bold" text-anchor="end" fill="#000" stroke="#000" stroke-width="0.18" textLength="10.20" lengthAdjust="spacingAndGlyphs">1.5</text>
<line x1="361.4" y1="31.5" x2="363.7" y2="31.5" stroke="#000" stroke-width="1.1"/>
<text x="358.0" y="34.75199999999998" font-size="8.2" font-weight="bold" text-anchor="end" fill="#000" stroke="#000" stroke-width="0.18" textLength="10.20" lengthAdjust="spacingAndGlyphs">2.0</text>
<line x1="361.4" y1="5.5" x2="363.7" y2="5.5" stroke="#000" stroke-width="1.1"/>
<text x="358.0" y="8.601999999999977" font-size="8.2" font-weight="bold" text-anchor="end" fill="#000" stroke="#000" stroke-width="0.18" textLength="10.20" lengthAdjust="spacingAndGlyphs">2.5</text>
<text x="344.8" y="71.0" font-size="8.0" font-weight="bold" text-anchor="middle" fill="#000" stroke="#000" stroke-width="0.18" transform="rotate(-90 344.8 71.0)">mRNA Fold Change</text>
<rect x="372.5" y="9.5" width="4.0" height="4.0" fill="#000" stroke="#000" stroke-width="0.6"/>
<text x="378.2" y="14.600000000000001" font-size="7.85" font-weight="bold" text-anchor="start" fill="#000" stroke="#000" stroke-width="0.18">Scp-1 p000</text>
<rect x="372.5" y="19.5" width="4.0" height="5.0" fill="#990000" stroke="#000" stroke-width="0.6"/>
<text x="378.2" y="24.8" font-size="7.85" font-weight="bold" text-anchor="start" fill="#000" stroke="#000" stroke-width="0.18">Scp-1 p181a</text>
<rect x="372.5" y="29.5" width="4.0" height="4.0" fill="#6600cc" stroke="#000" stroke-width="0.6"/>
<text x="378.2" y="34.5" font-size="7.85" font-weight="bold" text-anchor="start" fill="#000" stroke="#000" stroke-width="0.18">Scp-1 p181a +antimiR</text>
<rect x="389.5" y="84.5" width="25.0" height="52.0" fill="#000" stroke="#000" stroke-width="1.1"/>
<rect x="428.5" y="109.5" width="24.0" height="27.0" fill="#990000" stroke="#000" stroke-width="1.1"/>
<line x1="440.5" y1="106.589" x2="440.5" y2="111.819" stroke="#000" stroke-width="1.2"/>
<line x1="438.3" y1="106.5" x2="443.3" y2="106.5" stroke="#000" stroke-width="1.2"/>
<line x1="438.3" y1="111.5" x2="443.3" y2="111.5" stroke="#000" stroke-width="1.2"/>
<rect x="467.5" y="78.5" width="24.0" height="58.0" fill="#6600cc" stroke="#000" stroke-width="1.1"/>
<line x1="479.5" y1="65.27199999999999" x2="479.5" y2="92.46799999999999" stroke="#000" stroke-width="1.2"/>
<line x1="477.0" y1="65.5" x2="482.0" y2="65.5" stroke="#000" stroke-width="1.2"/>
<line x1="477.0" y1="92.5" x2="482.0" y2="92.5" stroke="#000" stroke-width="1.2"/>
<path d="M426.5 54.0 V49.5 H493.5 V54.0" fill="none" stroke="#000" stroke-width="1.2"/>
<path d="M388.5 64.1 V60.5 H493.5 V64.1" fill="none" stroke="#000" stroke-width="1.2"/>
<path d="M388.5 80.8 V77.5 H453.5 V80.8" fill="none" stroke="#000" stroke-width="1.2"/>
<path d="M453.65 46.82L453.65 44.52M453.65 46.82L455.84 46.11M453.65 46.82L455.00 48.68M453.65 46.82L452.30 48.68M453.65 46.82L451.46 46.11M459.60 46.82L459.60 44.52M459.60 46.82L461.79 46.11M459.60 46.82L460.95 48.68M459.60 46.82L458.25 48.68M459.60 46.82L457.41 46.11M465.55 46.82L465.55 44.52M465.55 46.82L467.74 46.11M465.55 46.82L466.90 48.68M465.55 46.82L464.20 48.68M465.55 46.82L463.36 46.11" stroke="#6600cc" stroke-width="1.15" stroke-linecap="round" fill="none"/>
<text x="441.2" y="59.5" font-size="7.8" font-weight="bold" text-anchor="middle" fill="#6600cc" stroke="#6600cc" stroke-width="0.18">NS</text>
<path d="M415.05 73.52L415.05 71.22M415.05 73.52L417.24 72.81M415.05 73.52L416.40 75.38M415.05 73.52L413.70 75.38M415.05 73.52L412.86 72.81M421.00 73.52L421.00 71.22M421.00 73.52L423.19 72.81M421.00 73.52L422.35 75.38M421.00 73.52L419.65 75.38M421.00 73.52L418.81 72.81M426.95 73.52L426.95 71.22M426.95 73.52L429.14 72.81M426.95 73.52L428.30 75.38M426.95 73.52L425.60 75.38M426.95 73.52L424.76 72.81" stroke="#cc0000" stroke-width="1.15" stroke-linecap="round" fill="none"/>
<text x="441.0" y="147.8" font-size="7.6" font-weight="bold" text-anchor="middle" fill="#000" stroke="#000" stroke-width="0.18">PER3</text>
<rect x="574.5" y="5.5" width="108.0" height="131.0" fill="none" stroke="#000" stroke-width="1.2"/>
<line x1="574.5" y1="136.3" x2="574.5" y2="138.3" stroke="#000" stroke-width="1.1"/>
<line x1="572.3000000000001" y1="136.5" x2="574.6" y2="136.5" stroke="#000" stroke-width="1.1"/>
<text x="568.6" y="139.252" font-size="8.2" font-weight="bold" text-anchor="end" fill="#000" stroke="#000" stroke-width="0.18" textLength="10.20" lengthAdjust="spacingAndGlyphs">0.0</text>
<line x1="572.3000000000001" y1="110.5" x2="574.6" y2="110.5" stroke="#000" stroke-width="1.1"/>
<text x="568.6" y="113.152" font-size="8.2" font-weight="bold" text-anchor="end" fill="#000" stroke="#000" stroke-width="0.18" textLength="10.20" lengthAdjust="spacingAndGlyphs">0.5</text>
<line x1="572.3000000000001" y1="84.5" x2="574.6" y2="84.5" stroke="#000" stroke-width="1.1"/>
<text x="568.6" y="87.05199999999999" font-size="8.2" font-weight="bold" text-anchor="end" fill="#000" stroke="#000" stroke-width="0.18" textLength="10.20" lengthAdjust="spacingAndGlyphs">1.0</text>
<line x1="572.3000000000001" y1="57.5" x2="574.6" y2="57.5" stroke="#000" stroke-width="1.1"/>
<text x="568.6" y="60.951999999999984" font-size="8.2" font-weight="bold" text-anchor="end" fill="#000" stroke="#000" stroke-width="0.18" textLength="10.20" lengthAdjust="spacingAndGlyphs">1.5</text>
<line x1="572.3000000000001" y1="31.5" x2="574.6" y2="31.5" stroke="#000" stroke-width="1.1"/>
<text x="568.6" y="34.851999999999975" font-size="8.2" font-weight="bold" text-anchor="end" fill="#000" stroke="#000" stroke-width="0.18" textLength="10.20" lengthAdjust="spacingAndGlyphs">2.0</text>
<line x1="572.3000000000001" y1="5.5" x2="574.6" y2="5.5" stroke="#000" stroke-width="1.1"/>
<text x="568.6" y="8.751999999999954" font-size="8.2" font-weight="bold" text-anchor="end" fill="#000" stroke="#000" stroke-width="0.18" textLength="10.20" lengthAdjust="spacingAndGlyphs">2.5</text>
<text x="554.0" y="71.0" font-size="8.0" font-weight="bold" text-anchor="middle" fill="#000" stroke="#000" stroke-width="0.18" transform="rotate(-90 554.0 71.0)">mRNA Fold Change</text>
<rect x="583.5" y="12.5" width="3.0" height="4.0" fill="#0000ff" stroke="#000" stroke-width="0.6"/>
<text x="589.1" y="16.8" font-size="7.2" font-weight="bold" text-anchor="start" fill="#000" stroke="#000" stroke-width="0.18" textLength="44.5">PASC-1 p000</text>
<rect x="583.5" y="24.5" width="3.0" height="4.0" fill="#00ff08" stroke="#000" stroke-width="0.6"/>
<text x="589.1" y="28.8" font-size="7.2" font-weight="bold" text-anchor="start" fill="#000" stroke="#000" stroke-width="0.18" textLength="48.7">PASC-1 p181a</text>
<rect x="590.5" y="84.5" width="31.0" height="52.0" fill="#0000ff" stroke="#000" stroke-width="1.1"/>
<rect x="635.5" y="109.5" width="31.0" height="27.0" fill="#00ff08" stroke="#000" stroke-width="1.1"/>
<line x1="651.5" y1="100.02099999999999" x2="651.5" y2="118.291" stroke="#000" stroke-width="1.2"/>
<line x1="648.75" y1="100.5" x2="653.75" y2="100.5" stroke="#000" stroke-width="1.2"/>
<line x1="648.75" y1="118.5" x2="653.75" y2="118.5" stroke="#000" stroke-width="1.2"/>
<path d="M587.5 77.60000000000001 V73.5 H668.5 V77.60000000000001" fill="none" stroke="#000" stroke-width="1.2"/>
<path d="M622.25 70.12L622.25 67.82M622.25 70.12L624.44 69.41M622.25 70.12L623.60 71.98M622.25 70.12L620.90 71.98M622.25 70.12L620.06 69.41M628.20 70.12L628.20 67.82M628.20 70.12L630.39 69.41M628.20 70.12L629.55 71.98M628.20 70.12L626.85 71.98M628.20 70.12L626.01 69.41M634.15 70.12L634.15 67.82M634.15 70.12L636.34 69.41M634.15 70.12L635.50 71.98M634.15 70.12L632.80 71.98M634.15 70.12L631.96 69.41" stroke="#10ee10" stroke-width="1.15" stroke-linecap="round" fill="none"/>
<text x="628.0" y="147.4" font-size="7.6" font-weight="bold" text-anchor="middle" fill="#000" stroke="#000" stroke-width="0.18">PER3</text>
<text x="328.3" y="169.0" font-size="7.6" font-weight="bold" text-anchor="start" fill="#000" stroke="#000" stroke-width="0.18">[G]</text>
<rect x="362.2" y="159.1" width="158.4" height="15.8" fill="#000"/>
<text x="440.8" y="169.9" font-size="7.8" font-weight="bold" text-anchor="middle" fill="#f4f4f4">Scp-1</text>
<rect x="362.5" y="174.5" width="52.0" height="25.0" fill="#736e6d" stroke="#111" stroke-width="0.9"/>
<text x="388.65" y="190.10000000000002" font-size="7.9" font-weight="bold" text-anchor="middle" fill="#f2f2f2">p000</text>
<rect x="414.5" y="174.5" width="53.0" height="25.0" fill="#736e6d" stroke="#111" stroke-width="0.9"/>
<text x="440.95000000000005" y="190.10000000000002" font-size="7.9" font-weight="bold" text-anchor="middle" fill="#f2f2f2">p181a</text>
<rect x="467.5" y="174.5" width="53.0" height="25.0" fill="#736e6d" stroke="#111" stroke-width="0.9"/>
<text x="493.75" y="185.9" font-size="7.9" font-weight="bold" text-anchor="middle" fill="#f2f2f2">p181a</text>
<text x="493.75" y="195.10000000000002" font-size="7.9" font-weight="bold" text-anchor="middle" fill="#f2f2f2">+antimiR</text>
<rect x="573.5" y="159.2" width="110.5" height="16.1" fill="#000"/>
<text x="628.6" y="170.2" font-size="7.8" font-weight="bold" text-anchor="middle" fill="#f4f4f4">PASC-1</text>
<rect x="573.5" y="175.5" width="55.0" height="24.0" fill="#736e6d" stroke="#111" stroke-width="0.9"/>
<text x="601.0999999999999" y="190.25000000000003" font-size="7.9" font-weight="bold" text-anchor="middle" fill="#f2f2f2">p000</text>
<rect x="628.5" y="175.5" width="56.0" height="24.0" fill="#736e6d" stroke="#111" stroke-width="0.9"/>
<text x="656.1999999999999" y="190.25000000000003" font-size="7.9" font-weight="bold" text-anchor="middle" fill="#f2f2f2">p181a</text>
<rect x="328.5" y="200.5" width="34.0" height="29.0" fill="#736e6d" stroke="#111" stroke-width="0.9"/>
<text x="345.35" y="217.8" font-size="7.9" font-weight="bold" text-anchor="middle" fill="#f2f2f2">PER3</text>
<rect x="328.5" y="236.5" width="34.0" height="30.0" fill="#736e6d" stroke="#111" stroke-width="0.9"/>
<text x="345.35" y="254.40000000000003" font-size="7.9" font-weight="bold" text-anchor="middle" fill="#f2f2f2">GAPDH</text>
<rect x="362.7" y="200.3" width="157.8" height="29.4" fill="#939393"/>
<rect x="362.7" y="201" width="8" height="24" fill="#a0a0a0" filter="url(#b1_5)"/>
<rect x="362.7" y="225.2" width="157.8" height="4.5" fill="#c6c6c6" filter="url(#b1_2)"/>
<g filter="url(#mottle)"><g filter="url(#b1_5)"><rect x="373" y="201.5" width="39" height="22" fill="#6e6e6e"/><rect x="421" y="201.5" width="39" height="21" fill="#777"/><rect x="469" y="201" width="46" height="24.5" fill="#565656"/><rect x="373" y="213.5" width="39" height="7" fill="#4c4c4c"/><rect x="421" y="212" width="39" height="6.5" fill="#545454"/><rect x="469" y="208" width="46" height="16" fill="#484848"/><rect x="425" y="225.5" width="6" height="3" fill="#333"/></g></g>
<rect x="362.5" y="200.5" width="158.0" height="29.0" fill="none" stroke="#000" stroke-width="1.1"/>
<rect x="362.7" y="236.6" width="157.8" height="30.0" fill="#7b7b7b"/>
<path d="M379 249.6 Q398.25 253.99999999999997 417.5 249.6 L417.5 254.39999999999998 Q398.25 258.79999999999995 379 254.39999999999998 Z" fill="#363636" fill-opacity="1.0" filter="url(#b0_8)"/>
<path d="M424.6 249.6 Q444.95000000000005 253.99999999999997 465.3 249.6 L465.3 254.39999999999998 Q444.95000000000005 258.79999999999995 424.6 254.39999999999998 Z" fill="#363636" fill-opacity="1.0" filter="url(#b0_8)"/>
<path d="M472.5 249.6 Q492.85 253.99999999999997 513.2 249.6 L513.2 254.39999999999998 Q492.85 258.79999999999995 472.5 254.39999999999998 Z" fill="#363636" fill-opacity="1.0" filter="url(#b0_8)"/>
<rect x="362.5" y="236.5" width="158.0" height="30.0" fill="none" stroke="#000" stroke-width="1.1"/>
<rect x="539.5" y="199.5" width="34.0" height="30.0" fill="#736e6d" stroke="#111" stroke-width="0.9"/>
<text x="556.35" y="217.0" font-size="7.9" font-weight="bold" text-anchor="middle" fill="#f2f2f2">PER3</text>
<rect x="539.5" y="236.5" width="34.0" height="29.0" fill="#736e6d" stroke="#111" stroke-width="0.9"/>
<text x="556.35" y="253.8" font-size="7.9" font-weight="bold" text-anchor="middle" fill="#f2f2f2">GAPDH</text>
<rect x="573.5" y="199.4" width="111" height="29.6" fill="#9d9d9d"/>
<g filter="url(#b0_8)"><path d="M584 217 Q584 216 600 216.2 L624 216 Q625 219 624 221.5 L600 222.5 Q586 223 584 221 Z" fill="#222"/><path d="M639 216 Q648 211.5 660 212.5 L677 212 L677 216.5 Q660 216.8 652 216 Q645 215.5 640 218 Z" fill="#333"/></g>
<rect x="573.5" y="199.5" width="111.0" height="30.0" fill="none" stroke="#000" stroke-width="1.1"/>
<rect x="573.5" y="236.4" width="111" height="29.2" fill="#9c9c9c"/>
<g filter="url(#b1_2)" fill="none" stroke="#868686" stroke-width="2.6"><path d="M581 240 Q584 252 594 254.5 L614 255 Q624 253 627 241"/><path d="M634 240 Q637 252 647 255 L668 255 Q678 252 681 240"/></g>
<g filter="url(#b1_5)" fill="#888"><ellipse cx="655" cy="256" rx="9" ry="2.5"/></g>
<rect x="573.5" y="236.5" width="111.0" height="29.0" fill="none" stroke="#000" stroke-width="1.1"/>
<rect x="363.5" y="272.5" width="157.0" height="85.0" fill="none" stroke="#000" stroke-width="1.2"/>
<line x1="363.5" y1="357.5" x2="363.5" y2="359.5" stroke="#000" stroke-width="1.1"/>
<line x1="520.5" y1="357.5" x2="520.5" y2="359.5" stroke="#000" stroke-width="1.1"/>
<line x1="361.5" y1="357.5" x2="363.8" y2="357.5" stroke="#000" stroke-width="1.1"/>
<text x="357.4" y="360.488" font-size="8.3" font-weight="normal" text-anchor="end" fill="#000" stroke="#000" stroke-width="0.18">0</text>
<line x1="361.5" y1="333.5" x2="363.8" y2="333.5" stroke="#000" stroke-width="1.1"/>
<text x="357.4" y="336.838" font-size="8.3" font-weight="normal" text-anchor="end" fill="#000" stroke="#000" stroke-width="0.18">0.5</text>
<line x1="361.5" y1="310.5" x2="363.8" y2="310.5" stroke="#000" stroke-width="1.1"/>
<text x="357.4" y="313.188" font-size="8.3" font-weight="normal" text-anchor="end" fill="#000" stroke="#000" stroke-width="0.18">1</text>
<line x1="361.5" y1="286.5" x2="363.8" y2="286.5" stroke="#000" stroke-width="1.1"/>
<text x="357.4" y="289.53799999999995" font-size="8.3" font-weight="normal" text-anchor="end" fill="#000" stroke="#000" stroke-width="0.18">1.5</text>
<text x="333.0" y="315.0" font-size="7.9" font-weight="bold" text-anchor="middle" fill="#000" stroke="#000" stroke-width="0.18" transform="rotate(-90 333.0 315.0)">Protein Expression</text>
<text x="341.8" y="315.0" font-size="7.9" font-weight="bold" text-anchor="middle" fill="#000" stroke="#000" stroke-width="0.18" transform="rotate(-90 341.8 315.0)">Fold Change</text>
<rect x="393.5" y="310.5" width="28.0" height="47.0" fill="#000" stroke="#000" stroke-width="1.1"/>
<rect x="428.5" y="326.5" width="27.0" height="31.0" fill="#a30022" stroke="#000" stroke-width="1.1"/>
<line x1="442.5" y1="321.7885" x2="442.5" y2="331.2485" stroke="#000" stroke-width="1.2"/>
<line x1="439.6" y1="321.5" x2="444.6" y2="321.5" stroke="#000" stroke-width="1.2"/>
<line x1="439.6" y1="331.5" x2="444.6" y2="331.5" stroke="#000" stroke-width="1.2"/>
<rect x="463.5" y="310.5" width="27.0" height="47.0" fill="#6600cc" stroke="#000" stroke-width="1.1"/>
<line x1="477.5" y1="305.46999999999997" x2="477.5" y2="314.93" stroke="#000" stroke-width="1.2"/>
<line x1="474.5" y1="305.5" x2="479.5" y2="305.5" stroke="#000" stroke-width="1.2"/>
<line x1="474.5" y1="314.5" x2="479.5" y2="314.5" stroke="#000" stroke-width="1.2"/>
<path d="M427.5 287.1 V282.5 H493.5 V287.1" fill="none" stroke="#000" stroke-width="1.2"/>
<path d="M391.5 297.3 V292.5 H492.5 V297.3" fill="none" stroke="#000" stroke-width="1.2"/>
<path d="M391.5 309.0 V304.5 H456.5 V309.0" fill="none" stroke="#000" stroke-width="1.2"/>
<path d="M460.00 279.23L460.00 276.77M460.00 279.23L462.34 278.47M460.00 279.23L461.45 281.23M460.00 279.23L458.55 281.23M460.00 279.23L457.66 278.47" stroke="#6600cc" stroke-width="1.23" stroke-linecap="round" fill="none"/>
<text x="441.6" y="292.2" font-size="8.0" font-weight="bold" text-anchor="middle" fill="#6600cc" stroke="#6600cc" stroke-width="0.18">NS</text>
<path d="M423.30 301.03L423.30 298.57M423.30 301.03L425.64 300.27M423.30 301.03L424.75 303.03M423.30 301.03L421.85 303.03M423.30 301.03L420.96 300.27" stroke="#dd0000" stroke-width="1.23" stroke-linecap="round" fill="none"/>
<text x="442.2" y="369.6" font-size="7.6" font-weight="bold" text-anchor="middle" fill="#000" stroke="#000" stroke-width="0.18">PER3</text>
<rect x="574.5" y="272.5" width="110.0" height="85.0" fill="none" stroke="#000" stroke-width="1.2"/>
<line x1="574.5" y1="357.5" x2="574.5" y2="359.5" stroke="#000" stroke-width="1.1"/>
<line x1="571.7" y1="357.5" x2="574.0" y2="357.5" stroke="#000" stroke-width="1.1"/>
<text x="567.6" y="360.488" font-size="8.3" font-weight="normal" text-anchor="end" fill="#000" stroke="#000" stroke-width="0.18">0</text>
<line x1="571.7" y1="333.5" x2="574.0" y2="333.5" stroke="#000" stroke-width="1.1"/>
<text x="567.6" y="336.938" font-size="8.3" font-weight="normal" text-anchor="end" fill="#000" stroke="#000" stroke-width="0.18">0.5</text>
<line x1="571.7" y1="310.5" x2="574.0" y2="310.5" stroke="#000" stroke-width="1.1"/>
<text x="567.6" y="313.388" font-size="8.3" font-weight="normal" text-anchor="end" fill="#000" stroke="#000" stroke-width="0.18">1</text>
<line x1="571.7" y1="286.5" x2="574.0" y2="286.5" stroke="#000" stroke-width="1.1"/>
<text x="567.6" y="289.83799999999997" font-size="8.3" font-weight="normal" text-anchor="end" fill="#000" stroke="#000" stroke-width="0.18">1.5</text>
<text x="542.6" y="315.0" font-size="7.9" font-weight="bold" text-anchor="middle" fill="#000" stroke="#000" stroke-width="0.18" transform="rotate(-90 542.6 315.0)">Protein Expression</text>
<text x="551.8" y="315.0" font-size="7.9" font-weight="bold" text-anchor="middle" fill="#000" stroke="#000" stroke-width="0.18" transform="rotate(-90 551.8 315.0)">Fold Change</text>
<rect x="590.5" y="310.5" width="32.0" height="47.0" fill="#0000ff" stroke="#000" stroke-width="1.1"/>
<rect x="636.5" y="349.5" width="31.0" height="8.0" fill="#00ff08" stroke="#000" stroke-width="1.1"/>
<line x1="651.5" y1="345.254" x2="651.5" y2="354.674" stroke="#000" stroke-width="1.2"/>
<line x1="649.45" y1="345.5" x2="654.45" y2="345.5" stroke="#000" stroke-width="1.2"/>
<line x1="649.45" y1="354.5" x2="654.45" y2="354.5" stroke="#000" stroke-width="1.2"/>
<path d="M587.5 308.3 V304.5 H668.5 V308.3" fill="none" stroke="#000" stroke-width="1.2"/>
<path d="M625.44 301.00L625.44 298.87M625.44 301.00L627.47 300.34M625.44 301.00L626.69 302.73M625.44 301.00L624.18 302.73M625.44 301.00L623.41 300.34M630.96 301.00L630.96 298.87M630.96 301.00L632.99 300.34M630.96 301.00L632.22 302.73M630.96 301.00L629.71 302.73M630.96 301.00L628.93 300.34" stroke="#10ee10" stroke-width="1.07" stroke-linecap="round" fill="none"/>
<text x="628.8" y="369.8" font-size="7.6" font-weight="bold" text-anchor="middle" fill="#000" stroke="#000" stroke-width="0.18">PER3</text>
<text x="329.5" y="381.4" font-size="7.6" font-weight="bold" text-anchor="start" fill="#000" stroke="#000" stroke-width="0.18">[H]</text>
<rect x="364.5" y="385.5" width="320.0" height="116.0" fill="none" stroke="#000" stroke-width="1.2"/>
<line x1="364.5" y1="501.6" x2="364.5" y2="503.6" stroke="#000" stroke-width="1.1"/>
<line x1="362.4" y1="501.5" x2="364.7" y2="501.5" stroke="#000" stroke-width="1.1"/>
<text x="358.2" y="504.084" font-size="6.9" font-weight="bold" text-anchor="end" fill="#000" stroke="#000" stroke-width="0.18">0.0</text>
<line x1="362.4" y1="475.5" x2="364.7" y2="475.5" stroke="#000" stroke-width="1.1"/>
<text x="358.2" y="478.364" font-size="6.9" font-weight="bold" text-anchor="end" fill="#000" stroke="#000" stroke-width="0.18">0.4</text>
<line x1="362.4" y1="450.5" x2="364.7" y2="450.5" stroke="#000" stroke-width="1.1"/>
<text x="358.2" y="452.644" font-size="6.9" font-weight="bold" text-anchor="end" fill="#000" stroke="#000" stroke-width="0.18">0.8</text>
<line x1="362.4" y1="424.5" x2="364.7" y2="424.5" stroke="#000" stroke-width="1.1"/>
<text x="358.2" y="426.924" font-size="6.9" font-weight="bold" text-anchor="end" fill="#000" stroke="#000" stroke-width="0.18">1.2</text>
<line x1="362.4" y1="398.5" x2="364.7" y2="398.5" stroke="#000" stroke-width="1.1"/>
<text x="358.2" y="401.204" font-size="6.9" font-weight="bold" text-anchor="end" fill="#000" stroke="#000" stroke-width="0.18">1.6</text>
<text x="334.6" y="443.3" font-size="7.95" font-weight="bold" text-anchor="middle" fill="#000" stroke="#000" stroke-width="0.18" transform="rotate(-90 334.6 443.3)">Relative Luciferase Activity</text>
<text x="345.0" y="443.8" font-size="8.2" font-weight="bold" text-anchor="middle" fill="#000" stroke="#000" stroke-width="0.18" transform="rotate(-90 345.0 443.8)">(Fold Change)</text>
<rect x="397.5" y="437.5" width="31.0" height="64.0" fill="#000" stroke="#000" stroke-width="1.1"/>
<rect x="442.5" y="483.5" width="30.0" height="18.0" fill="#990000" stroke="#000" stroke-width="1.1"/>
<line x1="457.5" y1="483.21020000000004" x2="457.5" y2="483.9818" stroke="#000" stroke-width="1.2"/>
<line x1="455.5" y1="483.5" x2="459.5" y2="483.5" stroke="#000" stroke-width="1.2"/>
<line x1="455.5" y1="483.5" x2="459.5" y2="483.5" stroke="#000" stroke-width="1.2"/>
<rect x="486.5" y="472.5" width="31.0" height="29.0" fill="#6600cc" stroke="#000" stroke-width="1.1"/>
<line x1="502.5" y1="472.022" x2="502.5" y2="473.308" stroke="#000" stroke-width="1.2"/>
<line x1="500.0" y1="472.5" x2="504.0" y2="472.5" stroke="#000" stroke-width="1.2"/>
<line x1="500.0" y1="473.5" x2="504.0" y2="473.5" stroke="#000" stroke-width="1.2"/>
<rect x="575.5" y="437.5" width="31.0" height="64.0" fill="#0000ff" stroke="#000" stroke-width="1.1"/>
<rect x="620.5" y="455.5" width="30.0" height="46.0" fill="#00ff08" stroke="#000" stroke-width="1.1"/>
<line x1="635.5" y1="450.803" x2="635.5" y2="459.805" stroke="#000" stroke-width="1.2"/>
<line x1="633.7" y1="450.5" x2="637.7" y2="450.5" stroke="#000" stroke-width="1.2"/>
<line x1="633.7" y1="459.5" x2="637.7" y2="459.5" stroke="#000" stroke-width="1.2"/>
<path d="M440.5 409.3 V404.5 H520.5 V409.3" fill="none" stroke="#000" stroke-width="1.2"/>
<path d="M395.5 422.90000000000003 V418.5 H520.5 V422.90000000000003" fill="none" stroke="#000" stroke-width="1.2"/>
<path d="M395.5 435.70000000000005 V431.5 H473.5 V435.70000000000005" fill="none" stroke="#000" stroke-width="1.2"/>
<path d="M573.5 435.90000000000003 V431.5 H654.5 V435.90000000000003" fill="none" stroke="#000" stroke-width="1.2"/>
<path d="M474.75 402.22L474.75 399.92M474.75 402.22L476.94 401.51M474.75 402.22L476.10 404.08M474.75 402.22L473.40 404.08M474.75 402.22L472.56 401.51M480.70 402.22L480.70 399.92M480.70 402.22L482.89 401.51M480.70 402.22L482.05 404.08M480.70 402.22L479.35 404.08M480.70 402.22L478.51 401.51M486.65 402.22L486.65 399.92M486.65 402.22L488.84 401.51M486.65 402.22L488.00 404.08M486.65 402.22L485.30 404.08M486.65 402.22L484.46 401.51" stroke="#6600cc" stroke-width="1.15" stroke-linecap="round" fill="none"/>
<path d="M451.45 415.22L451.45 412.92M451.45 415.22L453.64 414.51M451.45 415.22L452.80 417.08M451.45 415.22L450.10 417.08M451.45 415.22L449.26 414.51M457.40 415.22L457.40 412.92M457.40 415.22L459.59 414.51M457.40 415.22L458.75 417.08M457.40 415.22L456.05 417.08M457.40 415.22L455.21 414.51M463.35 415.22L463.35 412.92M463.35 415.22L465.54 414.51M463.35 415.22L464.70 417.08M463.35 415.22L462.00 417.08M463.35 415.22L461.16 414.51" stroke="#6600cc" stroke-width="1.15" stroke-linecap="round" fill="none"/>
<path d="M428.45 427.92L428.45 425.62M428.45 427.92L430.64 427.21M428.45 427.92L429.80 429.78M428.45 427.92L427.10 429.78M428.45 427.92L426.26 427.21M434.40 427.92L434.40 425.62M434.40 427.92L436.59 427.21M434.40 427.92L435.75 429.78M434.40 427.92L433.05 429.78M434.40 427.92L432.21 427.21M440.35 427.92L440.35 425.62M440.35 427.92L442.54 427.21M440.35 427.92L441.70 429.78M440.35 427.92L439.00 429.78M440.35 427.92L438.16 427.21" stroke="#cc0000" stroke-width="1.15" stroke-linecap="round" fill="none"/>
<path d="M611.12 428.02L611.12 425.72M611.12 428.02L613.31 427.31M611.12 428.02L612.48 429.88M611.12 428.02L609.77 429.88M611.12 428.02L608.94 427.31M617.08 428.02L617.08 425.72M617.08 428.02L619.26 427.31M617.08 428.02L618.43 429.88M617.08 428.02L615.72 429.88M617.08 428.02L614.89 427.31" stroke="#10ee10" stroke-width="1.15" stroke-linecap="round" fill="none"/>
<text x="524.3" y="512.3" font-size="7.2" font-weight="bold" text-anchor="middle" fill="#000" stroke="#000" stroke-width="0.18">PER3 3'UTR</text>
</svg></body></html>
